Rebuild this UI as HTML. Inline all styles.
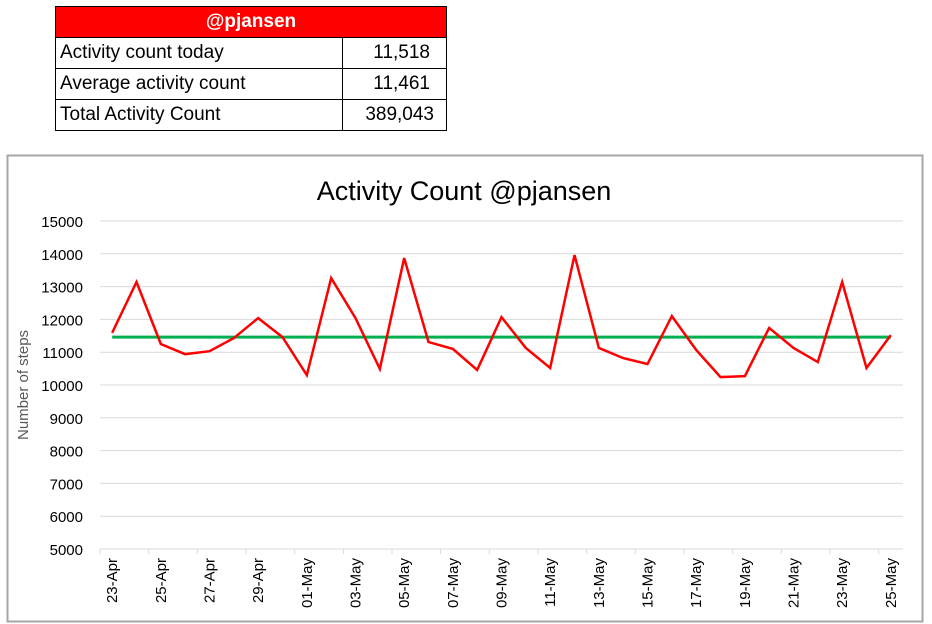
<!DOCTYPE html>
<html><head><meta charset="utf-8"><style>
body{margin:0;width:932px;height:624px;background:#fff;font-family:"Liberation Sans",sans-serif;position:relative;overflow:hidden}
table{position:absolute;left:55px;top:6px;border-collapse:collapse;font-size:19px}
td{border:1px solid #000;height:30px;padding:0 4px;color:#000}
</style></head><body>
<table>
<tr><td colspan="2" style="background:#ff0000;color:#fff;font-weight:bold;text-align:center;width:382px">@pjansen</td></tr>
<tr><td style="width:278px">Activity count today</td><td style="text-align:right;padding-right:16px">11,518</td></tr>
<tr><td>Average activity count</td><td style="text-align:right;padding-right:16px">11,461</td></tr>
<tr><td>Total Activity Count</td><td style="text-align:right;padding-right:12px">389,043</td></tr>
</table>
<svg id="chart" width="932" height="624" style="position:absolute;left:0;top:0" xmlns="http://www.w3.org/2000/svg">
<rect x="7.5" y="155.5" width="915" height="466" fill="none" stroke="#a6a6a6" stroke-width="2"/>
<text x="464" y="200" font-size="27" text-anchor="middle" fill="#000">Activity Count @pjansen</text>
<text transform="translate(28,385) rotate(-90)" font-size="15" text-anchor="middle" fill="#595959">Number of steps</text>
<g id="g"></g>
</svg>
<script>
const dates=["23-Apr","24-Apr","25-Apr","26-Apr","27-Apr","28-Apr","29-Apr","30-Apr","01-May","02-May","03-May","04-May","05-May","06-May","07-May","08-May","09-May","10-May","11-May","12-May","13-May","14-May","15-May","16-May","17-May","18-May","19-May","20-May","21-May","22-May","23-May","24-May","25-May"];
const steps=[11590,13140,11250,10940,11030,11430,12040,11460,10300,13260,12040,10490,13870,11310,11100,10460,12070,11130,10520,13960,11130,10820,10640,12100,11070,10240,10270,11740,11130,10700,13140,10520,11520];
const average=[11461];
const yTicks=[5000,6000,7000,8000,9000,10000,11000,12000,13000,14000,15000];
const NS="http://www.w3.org/2000/svg",g=document.getElementById('g');
const x0=100,x1=903,y0=549,y1=221,ymin=5000,ymax=15000;
const w=(x1-x0)/dates.length;
const X=i=>x0+(i+0.5)*w;
const Y=v=>y0-(v-ymin)/(ymax-ymin)*(y0-y1);
function mk(t,a){const e=document.createElementNS(NS,t);for(const k in a)e.setAttribute(k,a[k]);g.appendChild(e);return e;}
yTicks.forEach(v=>{
 const l=mk('line',{x1:x0,x2:x1,y1:Y(v),y2:Y(v),stroke:'#d9d9d9','stroke-width':1});
 
 
 const t=mk('text',{x:83,y:Y(v)+6,'font-size':15,'text-anchor':'end',fill:'#000'});t.textContent=v;
 
 
});
for(let i=0;i<=dates.length;i+=2){
 const tx=x0+i*w;
 const tk=mk('line',{x1:tx,x2:tx,y1:y0,y2:y0+5,stroke:'#d9d9d9'});
 
 
}
dates.forEach((d,i)=>{
 if(i%2)return;
 const t=mk('text',{transform:`translate(${X(i)+5},558) rotate(-90)`,'font-size':15,'text-anchor':'end',fill:'#000'});t.textContent=d;
 
 
});
const av=mk('line',{x1:X(0),x2:X(dates.length-1),y1:Y(average[0]),y2:Y(average[0]),stroke:'#00b050','stroke-width':3});


const p=mk('polyline',{points:steps.map((v,i)=>X(i)+','+Y(v)).join(' '),fill:'none',stroke:'#ff0000','stroke-width':2.5,'stroke-linejoin':'miter'});


</script>
</body></html>
